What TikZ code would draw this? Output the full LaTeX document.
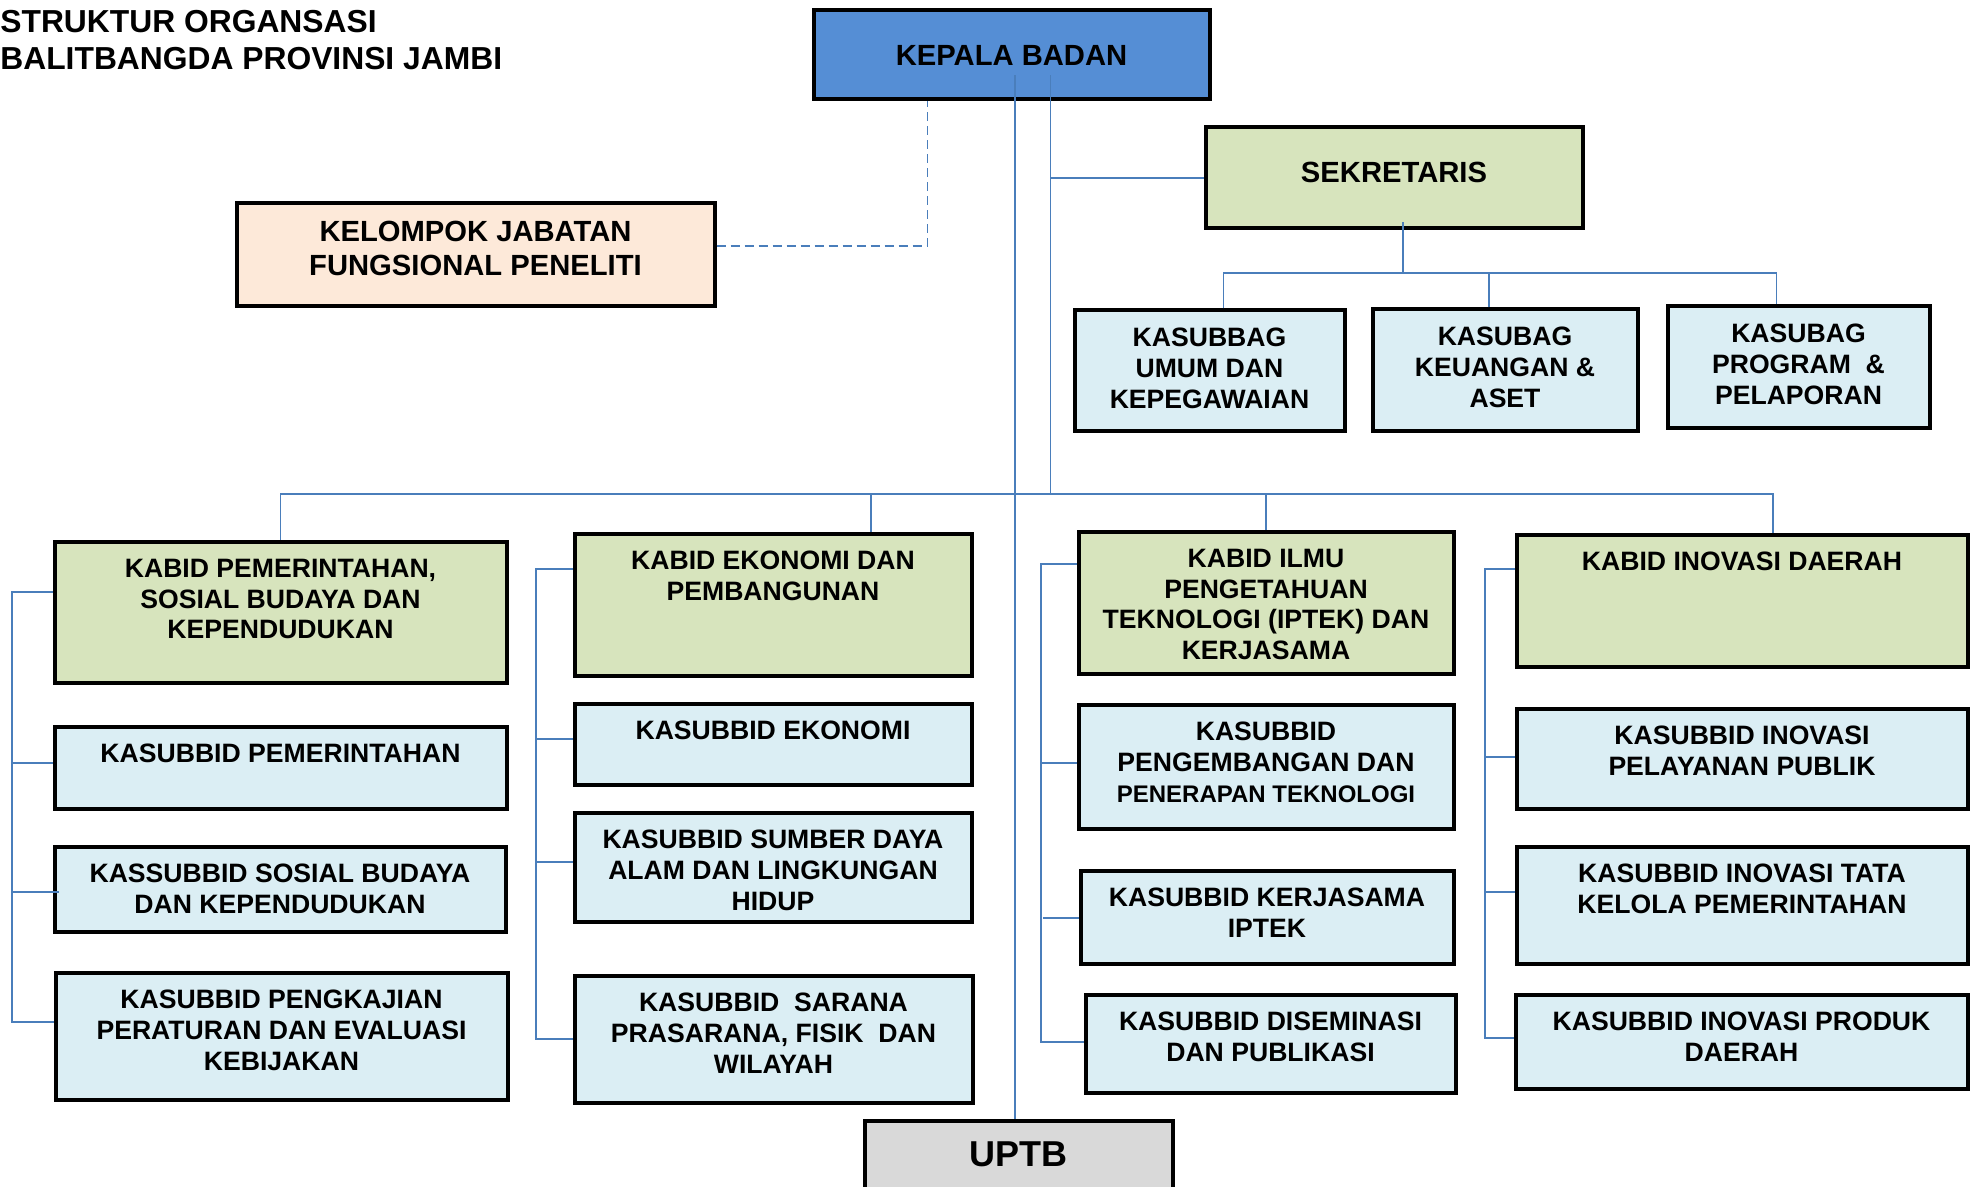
\documentclass[tikz,border=0pt]{standalone}
\usepackage{fontspec}
\setmainfont{Liberation Sans}
\usetikzlibrary{positioning}
\definecolor{kepalablue}{RGB}{85,142,213}
\definecolor{kabidgreen}{RGB}{215,228,189}
\definecolor{subblue}{RGB}{219,238,244}
\definecolor{jfpeach}{RGB}{253,233,217}
\definecolor{uptbgray}{RGB}{217,217,217}
\definecolor{linkblue}{RGB}{74,126,187}
\tikzset{org box/.style={draw=black,line width=2pt,inner sep=0pt},
         kabid box/.style={org box,fill=kabidgreen},
         sub box/.style={org box,fill=subblue},
         sz/.style 2 args={minimum width=#1pt,minimum height=#2pt},
         lbl/.style={anchor=north,yshift=-9.6pt,inner sep=0pt,align=center,
                     font=\bfseries\fontsize{13.3}{15.35}\selectfont},
         big lbl/.style={lbl,font=\bfseries\fontsize{14.6}{17}\selectfont},
         link/.style={draw=linkblue,line width=0.9pt},
            }

\begin{document}
\begin{tikzpicture}[x=0.5pt,y=-0.5pt]
\useasboundingbox (0,0) rectangle (1970,1187);
 \node[anchor=north west,inner sep=0pt,align=left,font=\bfseries\fontsize{15.9}{18.25}\selectfont] (title) at (0,10)
   {STRUKTUR ORGANSASI\\BALITBANGDA PROVINSI JAMBI};
 \node[org box,fill=kepalablue,sz={198}{44.5},font=\bfseries\fontsize{14.6}{17}\selectfont] (kepala) at (1011.5,55) {KEPALA BADAN};
 \node[kabid box,sz={188.5}{50.5},label={[big lbl,yshift=-8.5pt]north:{SEKRETARIS}}] (sek) at (1394,178) {};
 \node[org box,fill=jfpeach,sz={239}{51.5},label={[big lbl]north:{KELOMPOK JABATAN\\FUNGSIONAL PENELITI}}] (kjf) at (475.5,255) {};
   \node[sub box,sz={135}{60.5},label={[lbl]north:{KASUBBAG\\UMUM DAN\\KEPEGAWAIAN}}] (umum) at (1209.5,371) {};
   \node[sub box,sz={132.5}{61},label={[lbl]north:{KASUBAG\\KEUANGAN \&\\ASET}}] (keu) at (1505,370.5) {};
   \node[sub box,sz={131}{61},label={[lbl]north:{KASUBAG\\PROGRAM~ \&\\PELAPORAN}}] (prog) at (1798.5,367.5) {};

 \node[kabid box,sz={226}{70.5},label={[lbl]north:{KABID PEMERINTAHAN,\\SOSIAL BUDAYA DAN\\KEPENDUDUKAN}}] (kb1) at (280.5,612) {};
 \node[kabid box,sz={198.5}{71},label={[lbl]north:{KABID EKONOMI DAN\\PEMBANGUNAN}}] (kb2) at (773,604.5) {};
 \node[kabid box,sz={187.5}{71},label={[lbl]north:{KABID ILMU\\PENGETAHUAN\\TEKNOLOGI (IPTEK) DAN\\KERJASAMA}}] (kb3) at (1266,602.5) {};
 \node[kabid box,sz={225.5}{66},label={[lbl]north:{KABID INOVASI DAERAH}}] (kb4) at (1742,600.5) {};

   \node[sub box,sz={226}{41},label={[lbl]north:{KASUBBID PEMERINTAHAN}}] (pem) at (280.5,767.5) {};
   \node[sub box,sz={225.5}{42.5},label={[lbl]north:{KASSUBBID SOSIAL BUDAYA\\DAN KEPENDUDUKAN}}] (sos) at (280,889) {};
   \node[sub box,sz={226}{63.5},label={[lbl]north:{KASUBBID PENGKAJIAN\\PERATURAN DAN EVALUASI\\KEBIJAKAN}}] (pk) at (281.5,1036) {};

   \node[sub box,sz={198.5}{40.5},label={[lbl]north:{KASUBBID EKONOMI}}] (eko) at (773,744) {};
   \node[sub box,sz={198.5}{54.5},label={[lbl]north:{KASUBBID SUMBER DAYA\\ALAM DAN LINGKUNGAN\\HIDUP}}] (sda) at (773,867) {};
   \node[sub box,sz={199}{63.5},label={[lbl]north:{KASUBBID~ SARANA\\PRASARANA, FISIK~ DAN\\WILAYAH}}] (sar) at (773.5,1039) {};

   \node[sub box,sz={187.5}{62},label={[lbl]north:{KASUBBID\\PENGEMBANGAN DAN\\{\fontsize{12}{15}\selectfont PENERAPAN TEKNOLOGI}}}] (peng) at (1266,766.5) {};
   \node[sub box,sz={186.5}{46.5},label={[lbl]north:{KASUBBID KERJASAMA\\IPTEK}}] (kerj) at (1267,917) {};
   \node[sub box,sz={185}{49},label={[lbl]north:{KASUBBID DISEMINASI\\DAN PUBLIKASI}}] (dis) at (1270.5,1043.5) {};

   \node[sub box,sz={225.5}{50},label={[lbl]north:{KASUBBID INOVASI\\PELAYANAN PUBLIK}}] (pel) at (1742,758.5) {};
   \node[sub box,sz={225.5}{58.5},label={[lbl]north:{KASUBBID INOVASI TATA\\KELOLA PEMERINTAHAN}}] (tata) at (1742,905) {};
   \node[sub box,sz={226}{47},label={[lbl]north:{KASUBBID INOVASI PRODUK\\DAERAH}}] (prod) at (1741.5,1041.5) {};

 \node[org box,fill=uptbgray,sz={154}{34},font=\bfseries\fontsize{18}{21}\selectfont] (uptb) at (1018.5,1154.5) {UPTB};

 \coordinate (trunk) at ([xshift=1.75pt,yshift=13pt]kepala.south);
 \coordinate (trunkb) at ([xshift=19.5pt,yshift=13pt]kepala.south);
 \coordinate (bus) at (1052,494);
 \coordinate (sbus) at (1403,273);

    \draw[link] (trunk) -- (trunk |- uptb.north);
    \draw[link] (trunkb) -- (trunkb |- bus);
    \draw[link] (sek.west) -- (sek.west -| trunkb);
    \draw[link,dash pattern=on 4.5pt off 2.5pt] ([yshift=4.5pt]kjf.east) -| ([xshift=-42pt]kepala.south);

    \draw[link] ([xshift=4.5pt,yshift=4pt]sek.south) -- (sbus);
    \draw[link] ([xshift=7pt]umum.north) |- (sbus) -| ([xshift=-11pt]prog.north);
    \draw[link] ([xshift=-8pt]keu.north) |- (sbus);

    \draw[link] (kb1.north) |- (bus) -| ([xshift=15.5pt]kb4.north);
    \draw[link] ([xshift=49pt]kb2.north) |- (bus);
    \draw[link] (kb3.north) |- (bus);

    \draw[link] ([yshift=10pt]kb1.west) -- ++(-20.25pt,0) |- ([yshift=7pt]pk.west);
    \draw[link] ([yshift=2.25pt]pem.west) -- ++(-20.25pt,0);
    \draw[link] ([xshift=3pt,yshift=-1.5pt]sos.west) -- ++(-23.25pt,0);

    \draw[link] ([yshift=17.75pt]kb2.west) -- ++(-18.25pt,0) |- (sar.west);
    \draw[link] ([yshift=2.5pt]eko.west) -- ++(-18.25pt,0);
    \draw[link] ([yshift=2.5pt]sda.west) -- ++(-18.25pt,0);

    \draw[link] ([yshift=19.25pt]kb3.west) -- ++(-17.75pt,0) |- ([yshift=0.75pt]dis.west);
    \draw[link] ([yshift=1.75pt]peng.west) -- ++(-17.75pt,0);
    \draw[link] ([yshift=-0.5pt]kerj.west) -- ++(-17.75pt,0);

    \draw[link] ([yshift=15.75pt]kb4.west) -- ++(-14.75pt,0) |- ([yshift=1.75pt]prod.west);
    \draw[link] ([yshift=0.75pt]pel.west) -- ++(-14.75pt,0);
    \draw[link] ([yshift=6.5pt]tata.west) -- ++(-14.75pt,0);
\end{tikzpicture}
\end{document}
